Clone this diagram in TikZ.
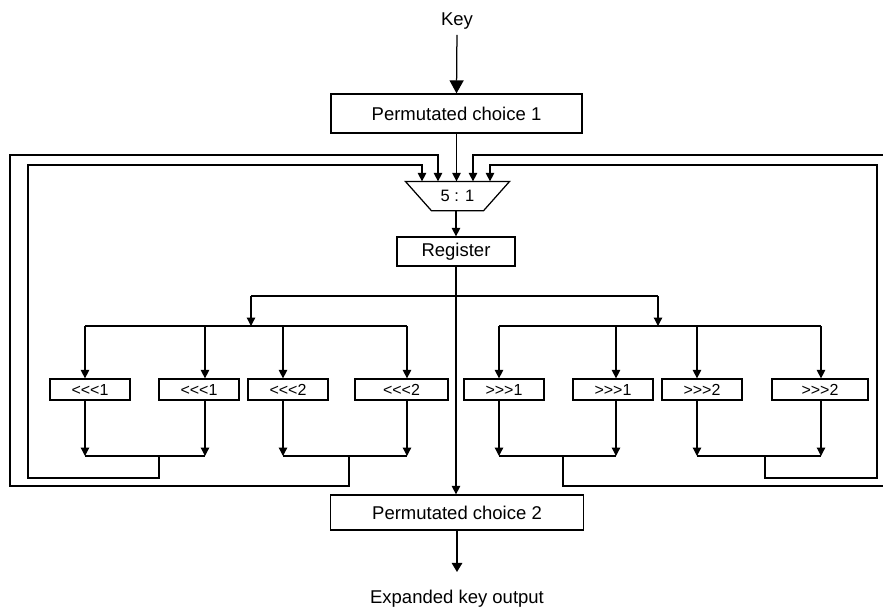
\documentclass[tikz,border=0pt]{standalone}
\usepackage{fontspec}
\setmainfont{Liberation Sans}
\usetikzlibrary{arrows.meta}
% rotation labels, kept apart so that << is not turned into a guillemet
\newcommand{\rotl}[1]{<\kern0pt<\kern0pt<#1}
\newcommand{\rotr}[1]{>\kern0pt>\kern0pt>#1}
\begin{document}
\begin{tikzpicture}[x=1pt,y=-1pt,
  line width=1.25pt,
  >={Triangle[length=8.5pt,width=8.5pt]},
  box/.style={draw, rectangle, inner sep=0pt, font=\fontsize{18.5}{20}\selectfont},
  shiftbox/.style={draw, rectangle, inner sep=0pt, minimum height=21pt, font=\fontsize{16}{18}\selectfont},
  caption/.style={inner sep=0pt, font=\fontsize{18.5}{20}\selectfont},
]
\useasboundingbox (0,0) rectangle (883,610);
\clip (0,0) rectangle (883,610);

% main chain
\node[caption, anchor=base] (key) at (457,25.5) {Key};
\node[box, minimum width=251pt, minimum height=39pt] (pc1) at (456.5,113.5) {Permutated choice 1};
\node[inner sep=0pt, minimum width=103pt, minimum height=28pt,
      font=\fontsize{16.5}{18}\selectfont] (mux) at (457.5,196) {5 : 1};
\draw (mux.north west) -- (mux.north east)
   -- ([xshift=-26pt]mux.south east) -- ([xshift=26pt]mux.south west) -- cycle;
\node[box, minimum width=118pt, minimum height=29pt] (reg) at (456,251.5) {Register};
\node[box, minimum width=253pt, minimum height=35pt] (pc2) at (457,512.5) {Permutated choice 2};
\node[caption, anchor=base] (out) at (457,603) {Expanded key output};

% rotation boxes
\node[shiftbox, minimum width=80pt] (l1) at (90,389.5) {\rotl{1}};
\node[shiftbox, minimum width=80pt] (l2) at (199,389.5) {\rotl{1}};
\node[shiftbox, minimum width=80pt] (l3) at (288,389.5) {\rotl{2}};
\node[shiftbox, minimum width=93pt] (l4) at (401.5,389.5) {\rotl{2}};
\node[shiftbox, minimum width=80pt] (r1) at (504,389.5) {\rotr{1}};
\node[shiftbox, minimum width=80pt] (r2) at (613,389.5) {\rotr{1}};
\node[shiftbox, minimum width=80pt] (r3) at (702,389.5) {\rotr{2}};
\node[shiftbox, minimum width=96pt] (r4) at (820,389.5) {\rotr{2}};

% main arrows
\draw[->, >={Triangle[length=13pt,width=14pt]}, shorten <=5pt] (key.south) -- (pc1.north);
\draw[->] (pc1.south) -- (pc1.south |- mux.north);
\draw[->] (reg.north |- mux.south) -- (reg.north);
\draw[->] (reg.south) -- (reg.south |- pc2.north);
\draw[->, >={Triangle[length=9pt,width=10.5pt]}, shorten >=17pt] (pc2.south) -- (out.north);

% fan-out from the register
\coordinate (lsplit) at (251,296);
\coordinate (rsplit) at (658,296);
\draw (lsplit) -- (rsplit);
\coordinate (t-l1) at (85,326);  \coordinate (b-l1) at (85,456);
\coordinate (t-l2) at (205,326); \coordinate (b-l2) at (205,456);
\coordinate (t-l3) at (283,326); \coordinate (b-l3) at (283,456);
\coordinate (t-l4) at (407,326); \coordinate (b-l4) at (407,456);
\coordinate (t-r1) at (499,326); \coordinate (b-r1) at (499,456);
\coordinate (t-r2) at (616,326); \coordinate (b-r2) at (616,456);
\coordinate (t-r3) at (697,326); \coordinate (b-r3) at (697,456);
\coordinate (t-r4) at (821,326); \coordinate (b-r4) at (821,456);
\draw[->] (lsplit) -- (lsplit |- t-l1);
\draw[->] (rsplit) -- (rsplit |- t-r1);
\draw (t-l1) -- (t-l4);
\draw (t-r1) -- (t-r4);
\foreach \b in {l1,l2,l3,l4,r1,r2,r3,r4} {
  \draw[->] (t-\b) -- (t-\b |- \b.north);
  \draw[->] (t-\b |- \b.south) -- (b-\b);
}
\draw (b-l1) -- (b-l2);
\draw (b-l3) -- (b-l4);
\draw (b-r1) -- (b-r2);
\draw (b-r3) -- (b-r4);

% feedback into the 5:1 selector
\coordinate (fb1) at (159,456);
\coordinate (fb2) at (349,456);
\coordinate (fb3) at (563,456);
\coordinate (fb4) at (765,456);
\coordinate (in1) at (422,0);
\coordinate (in2) at (438,0);
\coordinate (in4) at (473,0);
\coordinate (in5) at (490,0);
\draw[->] (fb1) |- (28,478) |- (in1 |- 0,165) -- (in1 |- mux.north);
\draw[->] (fb2) |- (10,486) |- (in2 |- 0,155) -- (in2 |- mux.north);
\draw[->] (fb3) |- (892,486) |- (in4 |- 0,155) -- (in4 |- mux.north);
\draw[->] (fb4) |- (877,478) |- (in5 |- 0,165) -- (in5 |- mux.north);
\end{tikzpicture}
\end{document}
